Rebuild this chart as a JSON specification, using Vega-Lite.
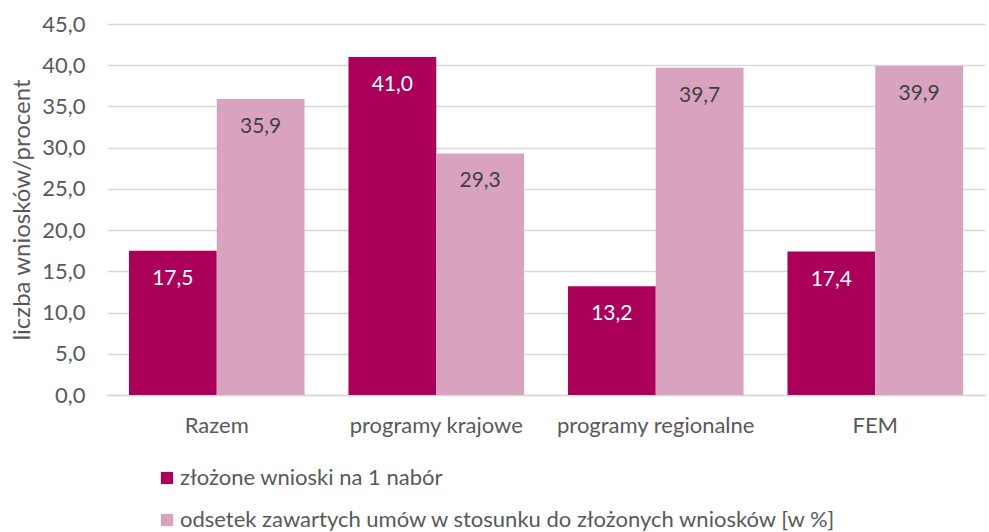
{
  "$schema": "https://vega.github.io/schema/vega-lite/v6.json",
  "autosize": {"type": "none"},
  "padding": {"left": 107, "top": 24, "right": 4, "bottom": 137},
  "width": 878,
  "height": 371,
  "background": "white",
  "config": {
    "locale": {"number": {"decimal": ",", "thousands": " ", "grouping": [3], "currency": ["", " zł"]}},
    "font": "Lato",
    "view": {"stroke": null}
  },
  "data": {
    "values": [
      {"kategoria": "Razem", "seria": "złożone wnioski na 1 nabór", "wartosc": 17.5},
      {"kategoria": "Razem", "seria": "odsetek zawartych umów w stosunku do złożonych wniosków [w %]", "wartosc": 35.9},
      {"kategoria": "programy krajowe", "seria": "złożone wnioski na 1 nabór", "wartosc": 41.0},
      {"kategoria": "programy krajowe", "seria": "odsetek zawartych umów w stosunku do złożonych wniosków [w %]", "wartosc": 29.3},
      {"kategoria": "programy regionalne", "seria": "złożone wnioski na 1 nabór", "wartosc": 13.2},
      {"kategoria": "programy regionalne", "seria": "odsetek zawartych umów w stosunku do złożonych wniosków [w %]", "wartosc": 39.7},
      {"kategoria": "FEM", "seria": "złożone wnioski na 1 nabór", "wartosc": 17.4},
      {"kategoria": "FEM", "seria": "odsetek zawartych umów w stosunku do złożonych wniosków [w %]", "wartosc": 39.9}
    ]
  },
  "encoding": {
    "x": {
      "field": "kategoria", "type": "nominal", "sort": null,
      "scale": {"paddingInner": 0.2, "paddingOuter": 0.1},
      "axis": {
        "title": null, "labelAngle": 0, "ticks": false, "domainColor": "#d9d9d9", "domainWidth": 1.5,
        "labelFontSize": 22, "labelColor": "#595959", "labelPadding": 20, "grid": false, "labelLimit": 400
      }
    },
    "xOffset": {
      "field": "seria", "type": "nominal", "sort": null,
      "scale": {"paddingInner": 0, "paddingOuter": 0}
    },
    "y": {
      "field": "wartosc", "type": "quantitative",
      "scale": {"domain": [0, 45], "nice": false},
      "axis": {
        "title": "liczba wniosków/procent", "titleFontSize": 24, "titleFontWeight": "normal", "titleColor": "#595959",
        "titlePadding": 7,
        "values": [0, 5, 10, 15, 20, 25, 30, 35, 40, 45], "format": ".1f",
        "labelFontSize": 22, "labelColor": "#595959", "labelPadding": 22,
        "ticks": false, "domain": false, "gridColor": "#d9d9d9", "gridWidth": 1.5
      }
    }
  },
  "layer": [
    {
      "mark": {"type": "bar"},
      "encoding": {
        "color": {
          "field": "seria", "type": "nominal", "sort": null,
          "scale": {"range": ["#AB0059", "#D9A2BF"]},
          "legend": {
            "title": null, "orient": "none", "legendX": 49, "legendY": 443, "direction": "vertical",
            "symbolType": "square", "symbolSize": 150, "symbolStrokeWidth": 0, "labelFontSize": 22, "labelColor": "#595959",
            "rowPadding": 20, "labelOffset": 2, "labelLimit": 900
          }
        }
      }
    },
    {
      "mark": {"type": "text", "baseline": "middle", "dy": 28, "fontSize": 21},
      "encoding": {
        "text": {"field": "wartosc", "type": "quantitative", "format": ".1f"},
        "color": {
          "condition": {"test": "datum.seria === 'złożone wnioski na 1 nabór'", "value": "white"},
          "value": "#404040"
        }
      }
    }
  ]
}
